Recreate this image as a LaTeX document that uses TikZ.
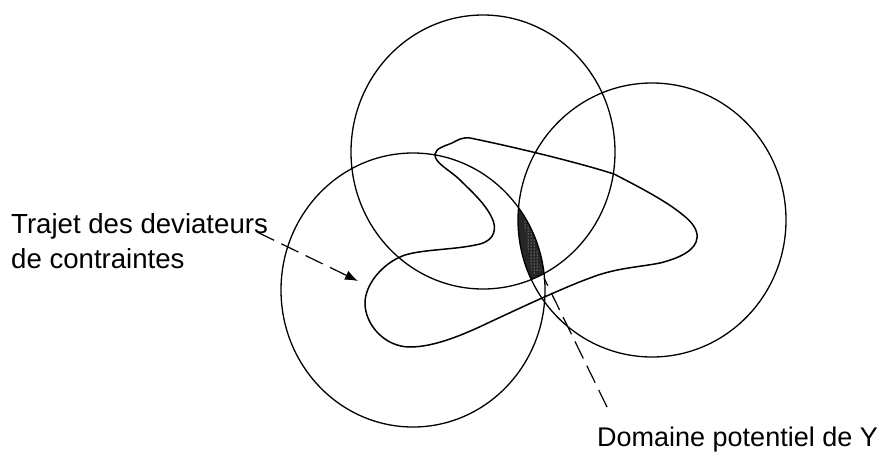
\documentclass[tikz,border=0pt]{standalone}
\usepackage{fontspec}
\setmainfont{Liberation Sans}
\usetikzlibrary{arrows.meta,patterns}
\tikzset{
  curve/.style={line width=1.5pt,black},
  ring/.style={line width=1.3pt,black},
  lead/.style={line width=1.2pt,dash pattern=on 19pt off 8pt},
  lbl/.style={font=\fontsize{27}{35}\selectfont,inner sep=0pt,align=left},
  lblb/.style={font=\fontsize{27.6}{35}\selectfont,inner sep=0pt,align=left}
}
\begin{document}
\begin{tikzpicture}[x=1pt,y=-1pt]
\useasboundingbox (0,0) rectangle (883,453);
\fill[white] (0,0) rectangle (883,453);
% shaded domain
\begin{scope}
\clip (483,152) ellipse [x radius=132,y radius=137];
\clip (413,290) ellipse [x radius=132,y radius=137];
\clip (652,220) ellipse [x radius=134,y radius=137];
\fill[black!85] (500,190) rectangle (560,300);
\fill[pattern=dots,pattern color=white] (524,222) -- (530,216) -- (541,270) -- (532,275) -- cycle;
\end{scope}
\draw[ring] (483,152) ellipse [x radius=132,y radius=137];
\draw[ring] (413,290) ellipse [x radius=132,y radius=137];
\draw[ring] (652,220) ellipse [x radius=134,y radius=137];
% stress path
\draw[curve] (435,154) .. controls (436,148) and (445,146) .. (452,143)
 .. controls (458,140) and (462,137) .. (470,138)
 .. controls (500,144) and (570,160) .. (614,174)
 .. controls (635,185) and (665,200) .. (683,215)
 .. controls (692,222) and (698,230) .. (697,238)
 .. controls (696,250) and (680,258) .. (660,263)
 .. controls (640,267) and (615,268) .. (590,278)
 .. controls (565,287) and (520,308) .. (490,322)
 .. controls (465,334) and (435,347) .. (410,347)
 .. controls (385,347) and (365,325) .. (365,303)
 .. controls (365,285) and (382,263) .. (405,255)
 .. controls (425,249) and (455,250) .. (480,244)
 .. controls (495,240) and (497,228) .. (492,218)
 .. controls (485,203) and (470,190) .. (460,180)
 .. controls (450,170) and (434,163) .. (435,154) -- cycle;
% labels
\node[lblb,anchor=base west] (traj) at (11,233) {Trajet des deviateurs};
\node[lblb,anchor=base west] (traj2) at (11,268) {de contraintes};
\node[lbl,anchor=base west] (dom) at (597,446) {Domaine potentiel de Y};
\coordinate (a1) at (257,232);
\coordinate (a2) at (358,281);
\draw[lead,-{Latex[length=13pt,width=10pt]}] (a1) -- (a2);
\coordinate (b1) at (607,407);
\coordinate (b2) at (544,278);
\draw[lead] (b1) -- (b2);
\end{tikzpicture}
\end{document}
